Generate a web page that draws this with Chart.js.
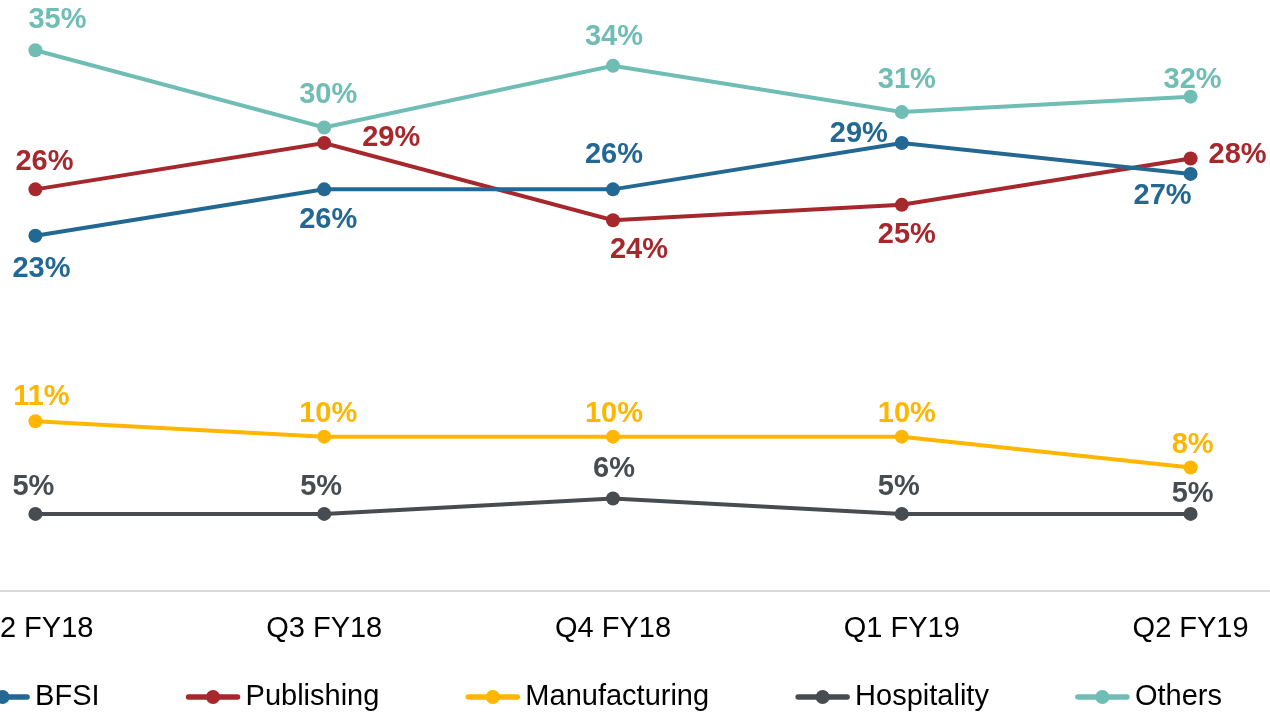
<!DOCTYPE html>
<html>
<head>
<meta charset="utf-8">
<script src="https://cdn.jsdelivr.net/npm/chart.js@4"></script>
<style>
  html, body { margin: 0; padding: 0; background: #fff; overflow: hidden; width: 1270px; height: 713px; }
  #wrap { position: absolute; left: -109px; top: -27px; width: 1444px; height: 760px; }
</style>
</head>
<body>
<div id="wrap"><canvas id="chart"></canvas></div>
<script>
const quarters = ["Q2 FY18", "Q3 FY18", "Q4 FY18", "Q1 FY19", "Q2 FY19"]

const bfsi = [23, 26, 26, 29, 27]
const publishing = [26, 29, 24, 25, 28]
const manufacturing = [11, 10, 10, 10, 8]
const hospitality = [5, 5, 6, 5, 5]
const others = [35, 30, 34, 31, 32]

// where each value label sits, relative to its point [dx, dy]
const bfsiLabelPos = [[6, 31], [4, 29], [1, -36], [-43, -11], [-28, 20]]
const publishingLabelPos = [[9, -29], [67, -7], [26, 28], [5, 28], [47, -5]]
const manufacturingLabelPos = [[6, -26], [4, -25], [1, -25], [5, -25], [2, -25]]
const hospitalityLabelPos = [[-2, -29], [-3, -29], [1, -31], [-3, -29], [2, -22]]
const othersLabelPos = [[22, -32], [4, -35], [1, -31], [5, -34], [2, -19]]

const font = "'Liberation Sans', Arial, sans-serif"

function series(label, data, color, labelPos) {
  return {
    label: label,
    data: data,
    borderColor: color,
    backgroundColor: color,
    borderWidth: 4,
    pointRadius: 7,
    pointHoverRadius: 7,
    pointBorderWidth: 0,
    tension: 0,
    labelPos: labelPos,
  }
}

const valueLabels = {
  id: "valueLabels",
  afterDatasetsDraw(chart) {
    const ctx = chart.ctx
    ctx.save()
    ctx.font = "bold 29px " + font
    ctx.textAlign = "center"
    ctx.textBaseline = "middle"
    chart.data.datasets.forEach((ds, i) => {
      const meta = chart.getDatasetMeta(i)
      meta.data.forEach((pt, j) => {
        const off = ds.labelPos[j]
        ctx.fillStyle = ds.borderColor
        ctx.fillText(ds.data[j] + "%", pt.x + off[0], pt.y + off[1] + 2)
      })
    })
    ctx.restore()
  },
}

// legend: line with a dot, then the name, all in one row
const lineLegend = {
  id: "lineLegend",
  afterDraw(chart) {
    const ctx = chart.ctx
    const markW = 55, gap = 5, itemGap = 86
    const centreX = 598.5 + 109
    const y = 724
    ctx.save()
    ctx.font = "29px " + font
    ctx.textBaseline = "middle"
    ctx.textAlign = "left"
    const items = chart.data.datasets.map((ds) => ({ds, w: ctx.measureText(ds.label).width}))
    let total = items.reduce((s, it) => s + markW + gap + it.w, 0) + itemGap * (items.length - 1)
    let x = centreX - total / 2
    items.forEach((it) => {
      const c = it.ds.borderColor
      ctx.strokeStyle = c
      ctx.lineWidth = 5.5
      ctx.lineCap = "round"
      ctx.beginPath()
      ctx.moveTo(x + 3, y)
      ctx.lineTo(x + markW - 3, y)
      ctx.stroke()
      ctx.fillStyle = c
      ctx.beginPath()
      ctx.arc(x + markW / 2, y, 7, 0, Math.PI * 2)
      ctx.fill()
      ctx.fillStyle = "#000"
      ctx.fillText(it.ds.label, x + markW + gap, y)
      x += markW + gap + it.w + itemGap
    })
    ctx.restore()
  },
}

new Chart(document.getElementById("chart").getContext("2d"), {
  type: "line",
  data: {
    labels: quarters,
    datasets: [
      series("BFSI", bfsi, "#236893", bfsiLabelPos),
      series("Publishing", publishing, "#a6282d", publishingLabelPos),
      series("Manufacturing", manufacturing, "#ffb600", manufacturingLabelPos),
      series("Hospitality", hospitality, "#464c4f", hospitalityLabelPos),
      series("Others", others, "#6fbdb5", othersLabelPos),
    ],
  },
  options: {
    responsive: true,
    maintainAspectRatio: false,
    animation: false,
    events: [],
    layout: {autoPadding: false, padding: {top: 0, left: 0, right: 0, bottom: 67}},
    scales: {
      x: {
        offset: true,
        grid: {display: false, drawTicks: false},
        border: {display: true, color: "#d9d9d9", width: 2},
        ticks: {color: "#000", padding: 20, font: {family: font, size: 29}},
      },
      y: {
        display: false,
        min: 0,
        max: 40,
      },
    },
    plugins: {
      tooltip: {enabled: false},
      legend: {display: false},
    },
  },
  plugins: [valueLabels, lineLegend],
})
</script>
</body>
</html>
